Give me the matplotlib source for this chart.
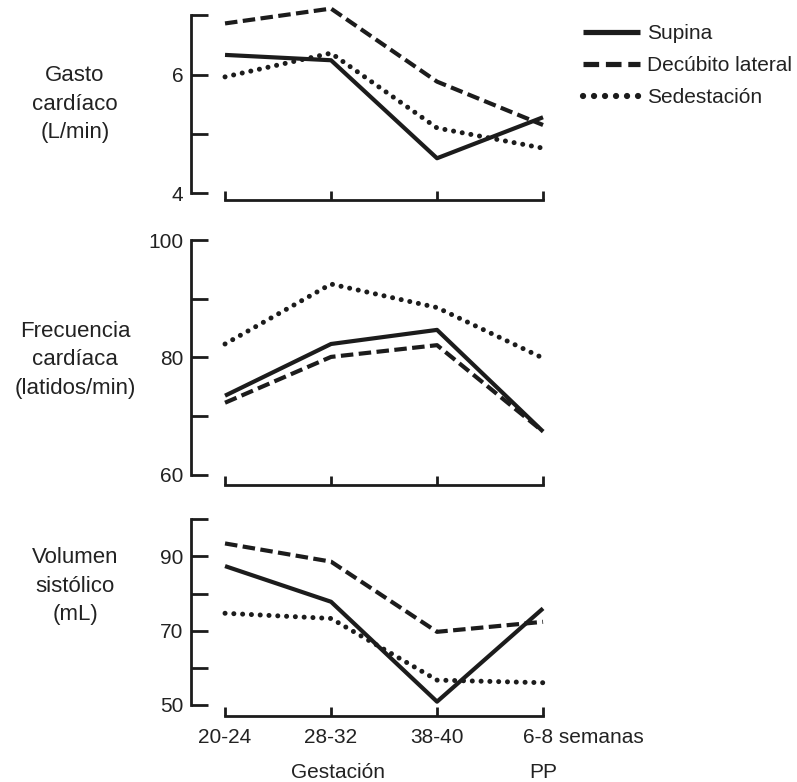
import matplotlib
matplotlib.use("Agg")
import matplotlib.pyplot as plt
from matplotlib.transforms import ScaledTranslation, blended_transform_factory

plt.rcParams['font.family'] = ['Liberation Sans', 'DejaVu Sans']
plt.rcParams['font.size'] = 15

# data
periodos = ["20-24", "28-32", "38-40", "6-8 semanas"]
series = ["Supina", "Decúbito lateral", "Sedestación"]

gasto_supina = [6.33, 6.24, 4.59, 5.28]
gasto_lateral = [6.86, 7.11, 5.88, 5.15]
gasto_sedest = [5.96, 6.36, 5.10, 4.76]

fc_supina = [73.5, 82.3, 84.7, 67.4]
fc_lateral = [72.3, 80.1, 82.1, 67.4]
fc_sedest = [82.3, 92.5, 88.5, 79.9]

vs_supina = [87.4, 77.8, 50.9, 76.0]
vs_lateral = [93.5, 88.6, 69.7, 72.4]
vs_sedest = [74.7, 73.3, 56.7, 56.0]

gasto_ticks = [4, 5, 6, 7]
gasto_ticklabels = ["4", "", "6", ""]
fc_ticks = [60, 70, 80, 90, 100]
fc_ticklabels = ["60", "", "80", "", "100"]
vs_ticks = [50, 60, 70, 80, 90, 100]
vs_ticklabels = ["50", "", "70", "", "90", ""]

ylabels = ["Gasto\ncardíaco\n(L/min)",
           "Frecuencia\ncardíaca\n(latidos/min)",
           "Volumen\nsistólico\n(mL)"]

INK = "#1c1c1c"
TXT = "#222222"
W, H = 797, 782
styles = [
    dict(linestyle="-", linewidth=3.0, solid_capstyle="butt"),
    dict(linestyle=(0, (3.0, 1.3)), linewidth=3.0, dash_capstyle="butt"),
    dict(linestyle=(0, (0.01, 1.75)), linewidth=3.6, dash_capstyle="round"),
]

fig = plt.figure(figsize=(W / 100, H / 100), dpi=100)

# axes placement in pixels: (top, bottom, ylim, bottom spine offset in px)
panels = [
    (6.2, 193.3, (4, 7.15), 6.7),
    (240.0, 475.0, (60, 100), 10.0),
    (519.3, 705.0, (50, 100), 10.7),
]
xl = (-0.321, 3.03)
ax_left, ax_w = 191, 355.2

data = [
    (gasto_supina, gasto_lateral, gasto_sedest, gasto_ticks, gasto_ticklabels),
    (fc_supina, fc_lateral, fc_sedest, fc_ticks, fc_ticklabels),
    (vs_supina, vs_lateral, vs_sedest, vs_ticks, vs_ticklabels),
]
label_centers = [104, 360, 586]

axes = []
x = list(range(len(periodos)))
for i, ((top, bot, yl, off), (s1, s2, s3, yt, ytl)) in enumerate(zip(panels, data)):
    ax = fig.add_axes([ax_left / W, 1 - bot / H, ax_w / W, (bot - top) / H])
    for vals, st in zip((s1, s2, s3), styles):
        ax.plot(x, vals, color=INK, clip_on=False, **st)
    ax.set_xlim(*xl)
    ax.set_ylim(*yl)
    for s in ("top", "right"):
        ax.spines[s].set_visible(False)
    ax.spines["left"].set_bounds(yt[0], yt[-1])
    ax.spines["bottom"].set_bounds(0, 3)
    ax.spines["bottom"].set_position(("outward", off * 0.72))
    for s in ("left", "bottom"):
        ax.spines[s].set_linewidth(2.0)
        ax.spines[s].set_color(INK)
    ax.set_yticks(yt)
    ax.set_yticklabels(ytl)
    ax.tick_params(axis="y", direction="in", length=12, width=2.0, pad=5.5,
                   colors=INK, labelcolor=TXT, labelsize=15)
    ax.set_xticks(x)
    ax.tick_params(axis="x", direction="in", length=6.5, width=2.0, pad=9,
                   colors=INK, labelcolor=TXT, labelsize=15)
    if i < 2:
        ax.set_xticklabels([])
    else:
        ax.set_xticklabels(periodos)
    fig.text(75 / W, 1 - label_centers[i] / H, ylabels[i], ha="center", va="center",
             multialignment="center", linespacing=1.45, color=TXT, fontsize=16)
    axes.append(ax)

ax3 = axes[2]
last = ax3.get_xticklabels()[-1]
last.set_horizontalalignment("left")
last.set_transform(last.get_transform() + ScaledTranslation(-0.20, 0, fig.dpi_scale_trans))

tr = blended_transform_factory(ax3.transData, fig.transFigure)
ax3.text(1.07, 1 - 778 / H, "Gestación", transform=tr, ha="center", va="baseline",
         color=TXT, fontsize=15)
ax3.text(3.0, 1 - 778 / H, "PP", transform=tr, ha="center", va="baseline",
         color=TXT, fontsize=15)

handles = axes[0].get_lines()
leg = fig.legend(handles, series, loc="upper left",
                 bbox_to_anchor=(583 / W, 1 - 24 / H), frameon=False,
                 handlelength=2.75, handletextpad=0.32, labelspacing=0.62,
                 borderpad=0, borderaxespad=0, fontsize=15)
for t in leg.get_texts():
    t.set_color(TXT)
for ln in leg.get_lines():
    ln.set_linewidth(ln.get_linewidth() * 1.25)

fig.savefig("out.png", dpi=100)
